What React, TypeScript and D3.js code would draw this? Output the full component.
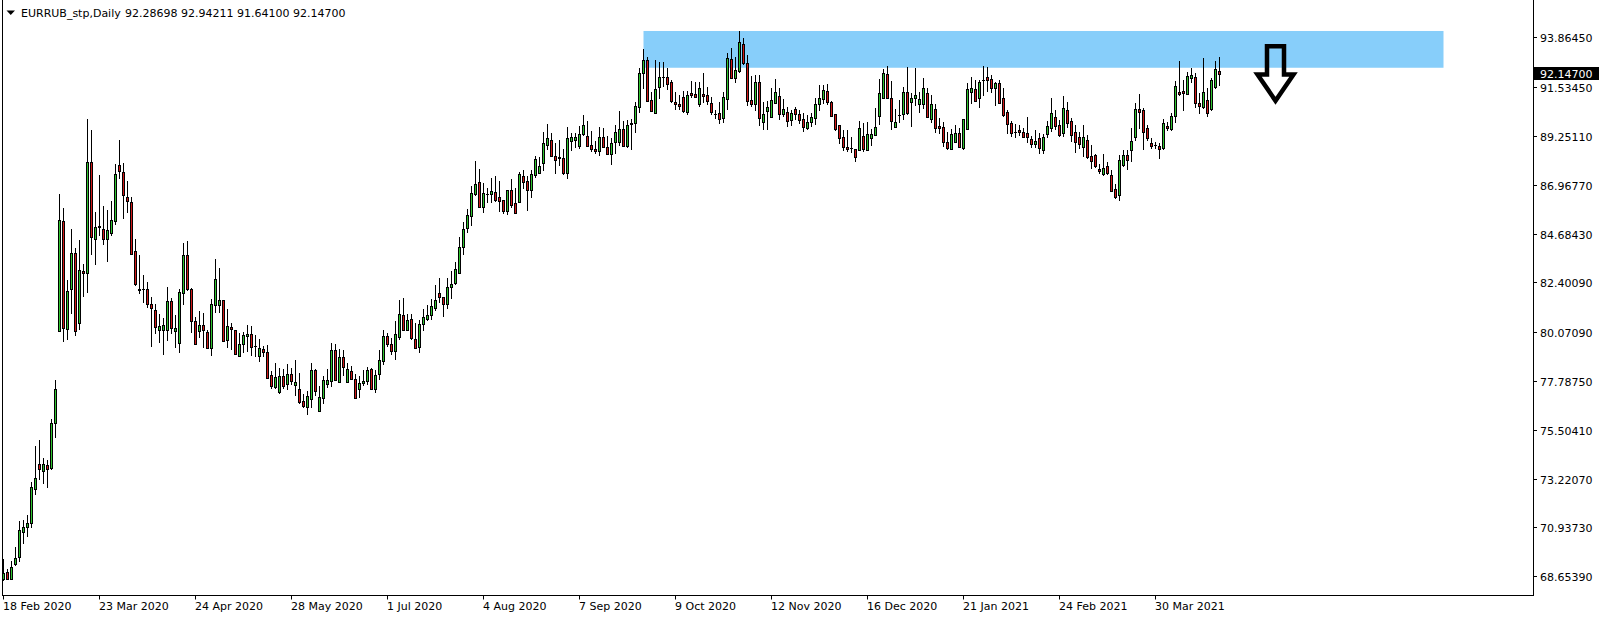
import React from "react";
import * as d3 from "d3";

// ---- data (EURRUB_stp, Daily) ----
const symbol = "EURRUB_stp,Daily";

const opens = [
  68.51,68.84,68.54,69.21,69.54,70.74,70.97,71.16,72.72,73.89,
  73.59,73.84,73.72,75.84,80.14,85.26,80.24,82.07,83.76,80.52,
  82.92,82.82,88.03,84.45,84.97,84.88,84.45,84.70,85.29,87.89,
  87.56,86.38,86.15,83.85,82.09,82.07,82.07,81.37,81.11,80.16,
  80.16,80.16,81.53,80.11,79.55,81.89,83.68,82.09,80.58,80.11,
  80.41,80.08,79.32,81.33,81.33,81.58,79.69,80.31,80.16,78.94,
  79.53,79.91,79.97,79.44,78.94,79.29,79.13,78.05,77.52,77.27,
  78.01,77.63,78.11,77.59,77.40,76.84,76.59,76.93,78.29,76.37,
  77.01,77.66,77.77,79.22,77.73,78.90,77.73,78.24,77.87,77.40,
  77.68,77.77,78.34,77.40,78.10,78.72,79.89,79.52,79.21,79.83,
  80.88,80.16,80.69,79.74,79.39,80.44,80.67,80.86,81.20,81.90,
  81.73,81.37,82.17,82.36,82.84,84.07,84.93,85.51,86.52,87.08,
  85.91,86.52,86.52,86.61,86.38,86.26,85.74,86.72,86.10,86.18,
  87.36,87.16,86.74,87.41,87.53,87.97,88.84,89.06,88.33,88.25,
  88.22,87.53,89.03,89.06,88.80,89.33,89.23,88.81,88.62,88.56,
  89.22,88.72,88.42,88.95,88.98,89.56,88.77,89.79,89.84,90.59,
  92.18,92.80,90.92,90.31,91.52,92.01,91.99,91.76,90.85,90.74,
  91.06,90.39,91.24,91.20,90.74,91.20,91.17,90.78,90.26,90.31,
  90.07,90.98,92.83,91.98,92.29,93.54,92.65,90.92,90.73,91.79,
  89.92,90.43,90.15,90.81,91.12,90.28,90.37,90.00,90.49,90.26,
  90.04,89.64,89.89,90.11,90.76,90.99,91.35,90.84,90.26,89.75,
  89.19,88.73,88.68,88.62,88.59,89.25,88.59,89.15,89.31,90.20,
  91.04,92.13,91.01,89.68,90.23,90.26,91.29,90.82,91.01,90.73,
  90.73,91.24,90.03,90.51,89.71,89.67,88.97,88.65,88.98,89.39,
  88.70,89.56,91.32,91.45,91.04,91.86,91.99,91.90,91.48,91.71,
  91.01,90.35,89.84,89.44,89.51,89.45,89.37,89.09,88.86,89.14,
  88.58,89.34,89.64,90.14,89.76,89.37,90.45,89.95,89.42,89.19,
  88.75,89.06,88.31,88.34,87.72,87.45,87.83,87.42,86.77,86.49,
  87.89,88.36,88.59,89.22,90.51,90.46,89.64,88.92,88.83,88.78,
  88.67,89.72,89.58,90.17,91.29,91.35,91.20,91.95,91.99,90.79,
  90.59,90.93,90.51,91.52,92.28698,
];

const highs = [
  69.45,68.98,69.38,70.01,71.25,71.29,71.52,73.08,74.75,75.03,
  74.17,74.09,75.99,77.83,86.54,85.88,82.51,84.88,83.99,84.38,
  83.26,90.04,89.53,85.69,87.42,85.97,85.79,86.22,87.94,89.06,
  88.00,87.16,86.41,84.41,83.68,82.75,82.40,81.72,81.39,80.94,
  80.72,82.19,81.69,80.88,82.09,84.24,84.34,82.15,80.78,81.06,
  80.97,80.17,81.64,83.50,83.07,81.58,81.17,80.50,80.19,80.02,
  80.06,80.41,80.36,79.94,79.75,79.41,79.47,78.26,78.63,78.40,
  78.33,78.58,78.40,78.77,78.18,77.16,77.32,78.63,78.37,77.55,
  78.02,78.33,79.55,79.52,79.27,79.24,78.62,78.49,78.10,78.04,
  78.29,78.46,78.38,78.30,79.24,80.17,80.02,79.78,80.60,81.58,
  81.65,80.92,80.92,80.49,80.64,81.14,81.34,81.61,82.26,82.61,
  81.73,82.61,82.95,83.37,84.54,85.23,85.85,86.89,88.08,87.71,
  87.03,86.83,87.27,87.38,87.14,86.26,86.71,87.25,86.80,87.56,
  87.66,87.38,87.66,88.31,88.28,89.42,89.79,89.40,88.94,89.06,
  88.62,89.68,89.40,89.40,89.72,90.25,89.97,89.50,89.00,89.65,
  89.62,89.25,89.14,89.76,90.42,89.95,89.99,90.04,90.85,92.44,
  93.32,92.96,91.32,92.80,92.72,92.71,92.44,91.87,91.32,91.17,
  91.37,91.35,91.82,91.79,91.76,92.18,91.56,91.09,90.45,90.82,
  91.32,93.15,93.38,92.93,94.16,93.82,93.04,92.07,92.10,92.10,
  90.85,90.90,91.51,91.90,91.51,90.96,90.62,90.46,90.62,90.46,
  90.31,90.23,90.31,91.01,91.63,91.63,91.70,90.90,90.26,89.75,
  89.53,89.53,89.19,88.62,89.97,89.87,89.90,89.56,90.54,91.90,
  92.37,92.52,91.82,90.49,90.93,91.52,92.46,91.24,92.41,91.32,
  91.94,91.51,91.16,90.73,90.07,89.92,89.42,89.56,89.76,89.61,
  90.03,91.71,91.99,91.87,91.87,92.52,92.49,92.10,91.79,91.87,
  91.48,90.46,89.96,89.79,89.76,89.61,90.14,89.23,89.53,89.37,
  89.36,89.95,91.04,90.46,89.99,91.12,90.82,90.07,89.76,89.42,
  89.76,89.29,88.83,88.41,87.92,88.41,88.05,87.66,86.99,88.36,
  88.59,88.59,89.61,90.78,91.21,90.54,89.76,89.17,88.98,88.90,
  90.04,89.92,90.31,91.82,92.76,91.87,92.26,92.44,92.18,91.24,
  92.88,91.48,91.95,92.76,92.94211,
];

const lows = [
  68.48,68.51,68.51,69.17,69.38,70.19,70.54,70.97,72.50,73.22,
  73.03,72.84,73.66,75.18,80.11,79.68,79.77,80.98,79.96,80.24,
  81.76,81.97,83.73,83.26,84.63,84.20,83.40,84.63,85.13,87.27,
  85.41,85.69,83.73,82.28,81.92,81.50,81.27,79.44,80.05,79.63,
  79.07,79.72,80.02,79.36,79.16,81.41,82.05,80.10,79.50,79.83,
  79.39,79.32,78.99,81.00,81.03,79.64,79.36,79.30,79.04,78.94,
  79.14,79.18,78.99,78.97,78.74,78.97,77.94,77.48,77.46,77.24,
  77.46,77.40,77.63,77.13,76.74,76.59,76.26,76.59,77.13,76.37,
  76.78,77.52,77.57,77.82,77.73,78.07,77.73,77.87,76.98,77.02,
  77.62,77.65,77.40,77.29,77.90,78.57,79.44,79.03,78.83,79.74,
  80.16,80.16,79.75,79.35,79.16,80.19,80.64,80.67,81.11,81.47,
  80.84,81.22,81.66,82.34,82.82,83.71,84.74,85.09,86.49,85.91,
  85.71,86.16,86.15,86.21,85.76,85.63,85.62,85.91,85.65,86.18,
  86.80,85.80,86.41,87.32,87.53,87.66,88.62,88.33,87.53,87.89,
  87.47,87.28,88.61,88.75,88.70,89.28,88.80,88.55,88.44,88.37,
  88.75,88.39,87.92,88.45,88.83,88.77,88.73,88.62,89.42,90.36,
  91.51,90.90,90.43,90.31,91.04,91.60,91.43,90.82,90.50,90.51,
  90.36,90.28,91.07,91.06,90.67,90.82,90.73,90.26,90.11,89.84,
  89.89,90.51,91.95,91.76,92.26,92.60,90.70,90.67,90.46,89.76,
  89.57,89.57,90.15,90.78,90.04,90.20,89.73,89.76,90.04,89.84,
  89.50,89.59,89.73,89.81,90.46,90.78,90.74,90.20,89.53,88.94,
  88.59,88.56,88.52,88.09,88.59,88.56,88.59,88.83,89.29,89.81,
  91.04,91.04,89.57,89.65,89.92,90.04,90.26,89.73,90.70,90.35,
  90.54,90.15,89.92,89.42,89.40,88.80,88.64,88.62,88.95,88.75,
  88.64,89.56,90.77,90.90,90.62,91.16,91.37,91.32,90.70,90.81,
  90.18,89.37,89.25,89.22,89.29,89.22,88.95,88.75,88.75,88.44,
  88.47,89.19,89.48,89.56,89.25,89.26,89.68,89.01,88.52,88.70,
  88.33,88.23,87.74,87.81,87.53,87.42,87.45,86.69,86.33,86.26,
  87.86,87.69,88.08,89.06,89.61,88.64,89.06,88.70,88.70,88.20,
  88.64,89.53,89.53,89.89,91.17,90.46,91.20,91.76,90.62,90.31,
  90.54,90.20,90.46,91.48,91.641,
];

const closes = [
  68.82,68.54,69.10,69.52,70.80,70.97,71.16,72.81,73.24,73.66,
  73.89,73.69,75.82,77.40,85.30,80.28,81.98,83.76,80.14,82.96,
  82.82,88.03,84.54,84.99,85.04,84.45,84.84,85.32,87.47,87.60,
  86.50,86.19,83.73,82.32,82.03,82.08,81.37,81.19,80.33,80.36,
  80.41,81.53,80.25,80.25,81.94,83.68,82.11,80.58,79.50,80.41,
  80.16,79.32,81.37,82.56,81.58,79.64,80.35,80.20,79.04,79.50,
  79.94,79.99,79.39,79.42,79.32,79.16,77.94,77.57,77.97,78.01,
  77.57,78.11,77.80,77.75,76.82,76.63,77.07,78.29,77.34,77.04,
  77.82,77.84,79.22,77.82,78.90,78.43,78.34,77.87,76.98,77.68,
  77.79,78.29,77.43,78.07,78.76,79.89,79.50,79.21,79.99,80.92,
  80.16,80.64,79.82,79.35,80.45,80.80,80.88,81.30,81.58,81.70,
  81.37,82.17,82.31,83.01,84.06,84.88,85.55,86.57,86.99,85.91,
  86.57,86.52,86.68,86.26,86.22,85.74,86.71,86.04,85.65,87.46,
  87.10,86.72,87.47,88.16,87.84,88.90,89.14,88.33,88.11,88.23,
  87.53,89.14,89.19,89.19,89.34,89.76,88.80,88.66,88.55,89.22,
  88.75,88.42,88.91,89.45,89.56,88.77,89.76,89.84,90.65,92.18,
  92.80,90.90,90.43,91.43,91.99,92.00,91.66,90.90,90.76,90.67,
  90.40,91.18,91.15,91.09,91.48,91.14,90.89,90.39,90.27,90.04,
  91.06,92.88,91.98,92.34,93.63,92.68,90.90,90.73,91.79,90.07,
  90.26,90.59,90.92,91.29,90.28,90.49,89.97,90.34,90.28,90.00,
  89.65,89.90,90.14,90.74,91.01,91.38,90.84,90.20,89.57,89.17,
  88.75,88.64,88.67,88.25,89.61,88.64,89.34,89.34,89.65,91.24,
  92.18,91.04,89.97,89.90,90.23,91.29,90.34,91.01,91.15,90.98,
  91.48,90.15,90.73,89.64,89.64,88.98,88.67,89.34,89.39,88.75,
  90.03,91.45,91.48,90.90,91.76,91.87,91.87,91.51,91.71,90.81,
  90.23,89.79,89.40,89.42,89.45,89.22,89.19,88.86,89.01,88.67,
  89.20,89.71,90.31,89.71,89.29,90.54,89.84,89.29,88.95,88.86,
  89.19,88.28,88.09,87.85,87.63,87.74,87.50,86.69,86.41,88.13,
  88.36,88.13,89.01,90.51,90.39,89.45,89.17,88.80,88.83,88.62,
  89.84,89.61,90.18,91.59,91.20,91.28,92.05,92.10,90.78,90.67,
  91.29,90.31,91.87,92.38,92.147,
];

const dateLabels = [
  "18 Feb 2020", "23 Mar 2020", "24 Apr 2020", "28 May 2020", "1 Jul 2020",
  "4 Aug 2020", "7 Sep 2020", "9 Oct 2020", "12 Nov 2020", "16 Dec 2020",
  "21 Jan 2021", "24 Feb 2021", "30 Mar 2021",
];
const barsPerLabel = 24;

const priceTicks = [
  93.8645, 91.5345, 89.2511, 86.9677, 84.6843, 82.4009,
  80.0709, 77.7875, 75.5041, 73.2207, 70.9373, 68.6539,
];

// resistance zone (bar index range, price range) and sell arrow anchor
const zoneBars = [160, 360];
const zonePrices = [92.44, 94.16];
const arrowBar = 318;
const arrowPrices = [93.45, 90.9];

// ---- styles ----
const W = 1604;
const H = 619;
const FONT = "'DejaVu Sans', Verdana, sans-serif";
const BULL = "#2fc42f";
const BEAR = "#d01818";
const ZONE = "#87CEFA";

export default function App() {
  const n = closes.length;
  const x = d3.scaleLinear().domain([0, n - 1]).range([3.5, 3.5 + 4 * (n - 1)]);
  const y = d3.scaleLinear().domain([68.6539, 93.8645]).range([576.3, 37.3]);
  const py = (v: number) => Math.round(y(v)) + 0.5;

  const plotRight = 1533.5;
  const plotBottom = 595.5;

  const last = n - 1;
  const lastClose = closes[last];
  const fmt = (v: number) => v.toFixed(5);

  const ax = x(arrowBar);
  const aTop = y(arrowPrices[0]);
  const aTip = y(arrowPrices[1]);
  const wingY = aTop + (aTip - aTop) * 0.52;
  const arrowPath = d3.path();
  arrowPath.moveTo(ax - 8.5, wingY);
  arrowPath.lineTo(ax - 8.5, aTop);
  arrowPath.lineTo(ax + 8.5, aTop);
  arrowPath.lineTo(ax + 8.5, wingY);
  arrowPath.lineTo(ax + 18, wingY);
  arrowPath.lineTo(ax, aTip);
  arrowPath.lineTo(ax - 18, wingY);
  arrowPath.closePath();

  return (
    <svg
      width={W}
      height={H}
      style={{ position: "absolute", left: 0, top: 0, background: "#fff" }}
      fontFamily={FONT}
    >
      <rect x={0} y={0} width={W} height={H} fill="#fff" />

      {/* resistance zone */}
      <rect
        x={x(zoneBars[0])}
        y={y(zonePrices[1])}
        width={x(zoneBars[1]) - x(zoneBars[0])}
        height={y(zonePrices[0]) - y(zonePrices[1])}
        fill={ZONE}
      />

      {/* candles */}
      <g>
        {closes.map((c, i) => {
          const o = opens[i];
          const cx = x(i);
          const yH = Math.round(y(highs[i]));
          const yL = Math.round(y(lows[i]));
          const yT = py(Math.max(o, c));
          const yB = py(Math.min(o, c));
          const up = c > o;
          return (
            <g key={i}>
              <line x1={cx} x2={cx} y1={yH} y2={yL + 1} stroke="#000" strokeWidth={1} />
              {yB - yT < 1 ? (
                <line x1={cx - 1.5} x2={cx + 1.5} y1={yT} y2={yT} stroke="#000" strokeWidth={1} />
              ) : (
                <rect
                  x={cx - 1}
                  y={yT}
                  width={2}
                  height={yB - yT}
                  fill={up ? BULL : BEAR}
                  stroke="#000"
                  strokeWidth={1}
                />
              )}
            </g>
          );
        })}
      </g>

      {/* arrow */}
      <path
        d={arrowPath.toString()}
        fill="none"
        stroke="#000"
        strokeWidth={4.5}
        strokeLinejoin="miter"
      />

      {/* frame */}
      <line x1={2.5} x2={2.5} y1={0} y2={plotBottom} stroke="#000" />
      <line x1={2} x2={plotRight + 0.5} y1={plotBottom} y2={plotBottom} stroke="#000" />
      <line x1={plotRight} x2={plotRight} y1={0} y2={plotBottom} stroke="#000" />

      {/* price axis */}
      {priceTicks.map((t) => {
        const ty = py(t);
        return (
          <g key={t}>
            <line x1={plotRight} x2={plotRight + 3.5} y1={ty} y2={ty} stroke="#000" />
            <text x={1540} y={ty + 4} fontSize={11} fill="#000">
              {fmt(t)}
            </text>
          </g>
        );
      })}

      {/* current price label */}
      <rect x={1534} y={Math.round(y(lastClose)) - 7} width={65} height={13} fill="#000" />
      <text x={1540} y={Math.round(y(lastClose)) + 4} fontSize={11} fill="#fff">
        {fmt(lastClose)}
      </text>

      {/* time axis */}
      {dateLabels.map((lab, k) => {
        const tx = x(k * barsPerLabel);
        return (
          <g key={lab}>
            <line x1={tx} x2={tx} y1={plotBottom} y2={plotBottom + 4} stroke="#000" />
            <text x={tx - 0.5} y={610} fontSize={11} fill="#000">
              {lab}
            </text>
          </g>
        );
      })}

      {/* title */}
      <polygon points="6.5,10.5 15,10.5 10.75,15" fill="#000" />
      <text x={21} y={17} fontSize={11} fill="#000">
        {symbol}
      </text>
      <text x={125} y={17} fontSize={11} fill="#000" style={{ whiteSpace: "pre" }}>
        {`${fmt(opens[last])} ${fmt(highs[last])} ${fmt(lows[last])} ${fmt(lastClose)}`}
      </text>
    </svg>
  );
}
